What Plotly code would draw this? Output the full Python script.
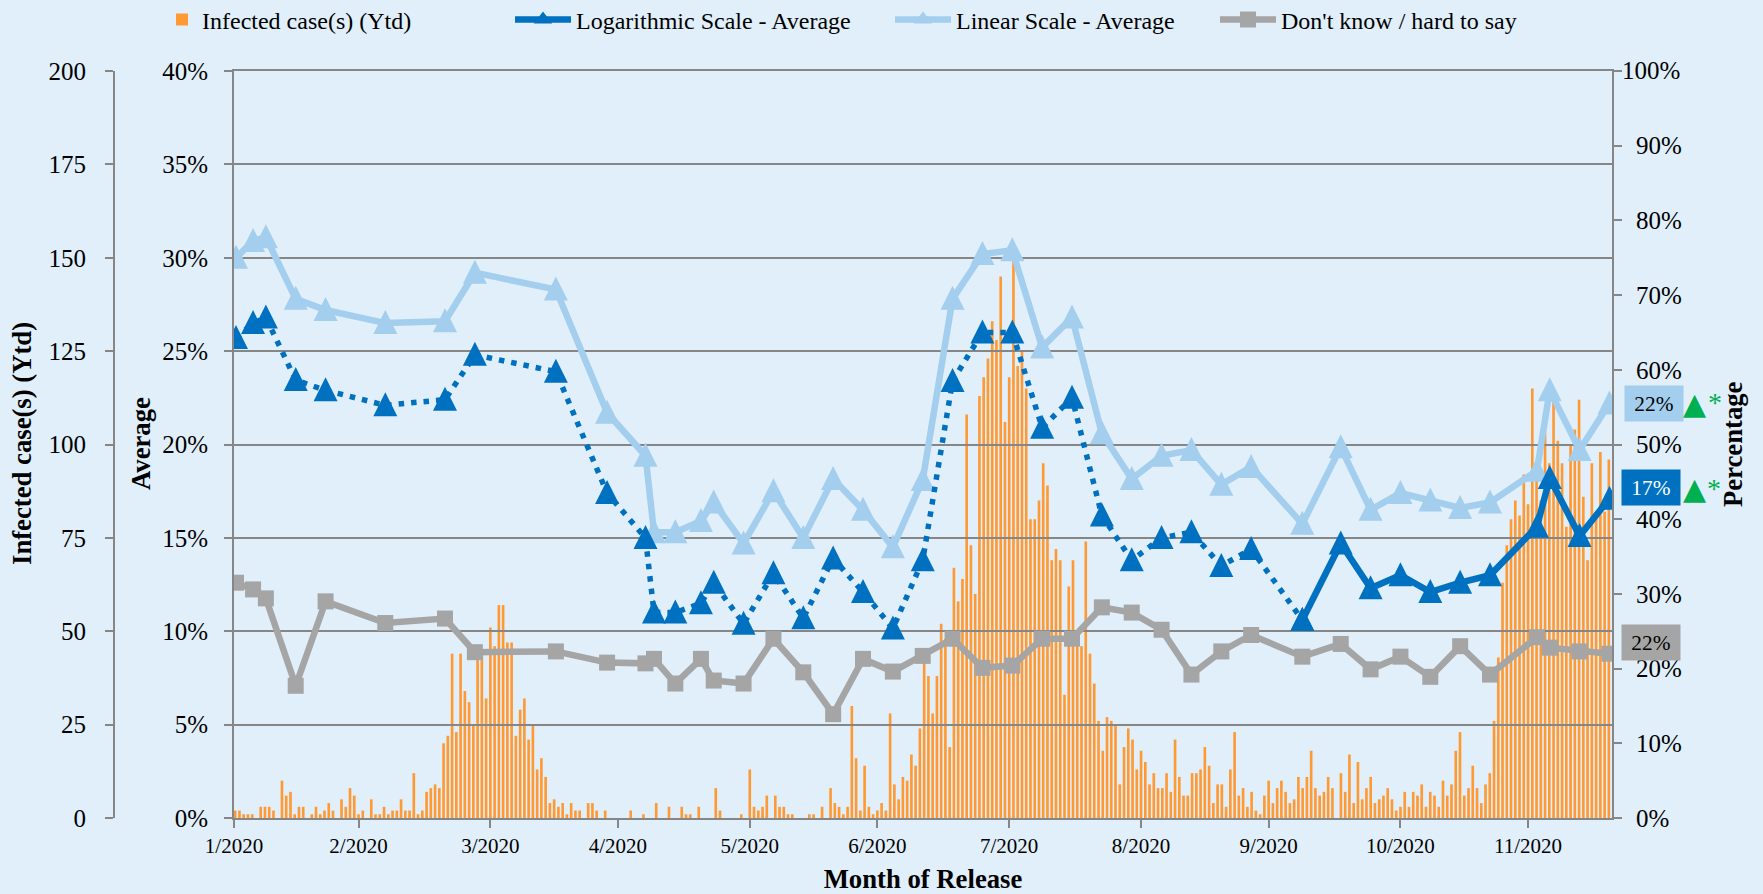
import plotly.graph_objects as go

W, H = 1763, 894
months = ["1/2020","2/2020","3/2020","4/2020","5/2020","6/2020","7/2020","8/2020","9/2020","10/2020","11/2020"]
month_days = [-0.28,29,60,90,121,151,182,213,243,274,304]

infected = [
 2,2,1,1,1,0,3,3,3,2, 0,10,6,7,1,3,3,0,1,3, 1,2,4,2,0,5,3,8,6,1, 2,0,5,1,1,3,1,2,2,5,
 2,2,12,1,2,7,8,9,8,20, 22,44,23,44,34,31,25,44,44,32, 51,46,57,57,47,47,22,29,32,21,
 25,13,16,11,4,5,3,4,1,4, 2,2,0,4,4,2,0,2,0,0, 0,0,0,2,0,0,1,0,0,4, 0,0,3,0,0,3,1,1,0,3,
 0,0,0,8,2,0,0,0,0,1, 0,13,3,2,3,6,0,6,3,3, 1,1,0,0,0,1,1,0,3,0, 8,4,3,1,3,30,16,2,14,3,
 1,2,4,2,28,9,5,11,10,17, 14,24,42,38,28,38,52,48,19,67, 58,64,108,73,60,113,118,123,133,128,
 145,106,118,149,121,125,115,80,80,85, 95,89,69,72,69,33,62,69,46,46, 74,44,36,26,18,27,26,25,9,19,
 24,21,13,18,15,9,12,8,8,12, 7,21,11,6,6,12,12,13,19,14, 4,9,9,3,13,23,6,8,3,7,
 2,1,6,10,4,8,10,7,4,5, 11,8,11,18,8,6,7,11,8,0, 12,7,17,4,15,5,8,11,4,5,
 6,8,5,2,3,7,3,7,6,9, 3,7,6,3,10,6,9,18,23,6, 8,14,8,4,9,12,26,43,63,73,
 80,85,81,92,84,115,91,85,103,95, 112,101,95,78,100,104,112,86,69,95, 82,98,82,96]
bar_days = list(range(len(infected)))

line_days = [0,4,7,14,21,35,49,56,75,87,96,98,103,109,112,119,126,133,140,147,154,161,168,175,182,189,196,
             203,210,217,224,231,238,250,259,266,273,280,287,294,305,308,315,322]
linear_avg = [30.0,30.9,31.1,27.8,27.2,26.5,26.6,29.2,28.3,21.7,19.4,15.3,15.3,15.9,16.9,14.7,17.5,15.0,18.15,16.5,
              14.5,18.1,27.8,30.2,30.4,25.2,26.8,20.6,18.15,19.4,19.7,17.85,18.8,15.75,19.85,16.5,17.4,17.0,16.6,16.9,
              18.6,22.9,19.7,22.2]
log_avg = [25.7,26.5,26.8,23.45,22.9,22.1,22.4,24.8,23.9,17.4,15.0,11.0,11.0,11.5,12.6,10.4,13.1,10.7,13.9,12.1,
           10.15,13.8,23.4,26.0,26.0,20.9,22.5,16.2,13.8,15.0,15.3,13.5,14.4,10.6,14.7,12.3,13.0,12.1,12.6,13.0,
           15.6,18.2,15.1,17.1]
dont_know = [31.5,30.6,29.4,17.7,29.0,26.1,26.7,22.2,22.3,20.8,20.7,21.3,18.0,21.3,18.4,18.0,24.0,19.5,13.9,21.3,
             19.6,21.7,24.0,20.1,20.4,24.0,24.0,28.2,27.5,25.2,19.2,22.3,24.5,21.6,23.3,19.9,21.6,18.9,23.0,19.2,
             24.2,22.8,22.3,22.0]
solid_from = 33  # the log series is dotted up to this point, solid afterwards

BG = "#E0EFFA"; ORANGE = "#FF9933"; BLUE = "#0070C0"; LIGHT = "#A3CEED"; GRAY = "#A5A5A5"; AXIS = "#868686"; GREEN = "#00B050"
FONT = "Liberation Serif"
px = lambda x: x / W
py = lambda y: 1 - y / H
TICK = dict(family=FONT, size=25, color="black")
tri = dict(symbol="arrow-down", size=24, standoff=13, angle=180)

fig = go.Figure()
fig.add_bar(x=bar_days, y=infected, xaxis="x", yaxis="y2", name="Infected case(s) (Ytd)", width=0.62,
            marker=dict(color=ORANGE, line_width=0), legend="legend")
fig.add_scatter(x=line_days, y=linear_avg, xaxis="x2", yaxis="y", mode="lines+markers", name="Linear Scale - Average", showlegend=False,
                line=dict(color=LIGHT, width=6.5, backoff=0), marker=dict(color=LIGHT, **tri))
fig.add_scatter(x=line_days[:solid_from+1], y=log_avg[:solid_from+1], xaxis="x2", yaxis="y", mode="lines+markers",
                name="Logarithmic Scale - Average (dotted)", showlegend=False,
                line=dict(color=BLUE, width=5.5, dash="5.5px,7px", backoff=0), marker=dict(color=BLUE, **tri))
fig.add_scatter(x=line_days[solid_from:], y=log_avg[solid_from:], xaxis="x2", yaxis="y", mode="lines+markers", showlegend=False,
                name="Logarithmic Scale - Average", line=dict(color=BLUE, width=6.5, backoff=0), marker=dict(color=BLUE, **tri))
fig.add_scatter(x=line_days, y=dont_know, xaxis="x2", yaxis="y3", mode="lines+markers", name="Don't know / hard to say",
                line=dict(color=GRAY, width=6.5), marker=dict(color=GRAY, symbol="square", size=16), legend="legend4")
# legend keys for the two triangle series (the plotted arrow markers carry an offset that the key should not)
for nm, col, lg in [("Logarithmic Scale - Average", BLUE, "legend2"), ("Linear Scale - Average", LIGHT, "legend3")]:
    fig.add_scatter(x=[None], y=[None], xaxis="x2", yaxis="y", mode="lines+markers", name=nm, legend=lg, hoverinfo="skip",
                    line=dict(color=col, width=6.5), marker=dict(color=col, symbol="triangle-up", size=16))

dom_x = [px(234), px(1612)]
dom_y = [py(818), py(71)]
common = dict(showline=True, linecolor=AXIS, linewidth=2, ticks="outside", ticklen=8, tickcolor=AXIS, tickwidth=2, tickfont=TICK)

pct_right = list(range(0, 101, 10))
fig.update_layout(
    width=W, height=H, margin=dict(l=0, r=0, t=0, b=0, autoexpand=False), paper_bgcolor=BG, plot_bgcolor="rgba(0,0,0,0)",
    barmode="overlay", font=dict(family=FONT, color="black"),
    xaxis=dict(domain=dom_x, range=[-0.28, 323.74], tickmode="array", tickvals=month_days, ticktext=months, mirror=True,
               showgrid=False, zeroline=False, anchor="y", **{**common, "tickfont": dict(family=FONT, size=21, color="black")},
               title=dict(text="<b>Month of Release</b>", font=dict(family=FONT, size=26.7, color="black"), standoff=17)),
    xaxis2=dict(domain=dom_x, range=[-0.47, 322.6], overlaying="x", visible=False, anchor="y"),
    yaxis=dict(domain=dom_y, range=[0, 40], tickmode="array", tickvals=list(range(0, 41, 5)), ticktext=[f"{v}%" for v in range(0, 41, 5)],
               showgrid=True, gridcolor=AXIS, gridwidth=2, zeroline=False, anchor="x", ticklabelstandoff=11, **common),
    yaxis2=dict(domain=dom_y, range=[0, 200], tickmode="array", tickvals=list(range(0, 201, 25)), ticktext=[str(v) for v in range(0, 201, 25)],
                overlaying="y", side="left", anchor="free", position=px(114), showgrid=False, zeroline=False, ticklabelstandoff=14, **common),
    yaxis3=dict(domain=dom_y, range=[0, 100], tickmode="array", tickvals=pct_right, ticktext=[f"{v}%" if v < 100 else "" for v in pct_right],
                overlaying="y", side="right", anchor="x", showgrid=False, zeroline=False, ticklabelstandoff=9, **common),
    showlegend=True,
)
lfont = dict(family=FONT, size=24, color="black")
for name, x0, iw in [("legend", 162, 30), ("legend2", 510, 56), ("legend3", 890, 56), ("legend4", 1215, 56)]:
    fig.update_layout({name: dict(x=px(x0), y=py(20), xanchor="left", yanchor="middle", font=lfont, bgcolor="rgba(0,0,0,0)",
                                  itemwidth=iw, orientation="h", itemclick=False, itemdoubleclick=False)})

def note(text, x, y, size=26.7, color="black", angle=0, bold=False, family=FONT, **kw):
    fig.add_annotation(xref="paper", yref="paper", x=px(x), y=py(y), text=f"<b>{text}</b>" if bold else text, showarrow=False,
                       font=dict(family=family, size=size, color=color), textangle=angle, xanchor="center", yanchor="middle", **kw)

note("100%", 1651, 71, size=25)
note("Infected case(s) (Ytd)", 22, 444, angle=-90, bold=True)
note("Average", 141, 444, angle=-90, bold=True)
note("Percentage", 1733, 444, angle=-90, bold=True)
note("22%", 1654, 404, size=21.33, bgcolor=LIGHT, width=56, height=33)
note("17%", 1651, 487, size=21.33, color="white", bgcolor=BLUE, width=56, height=33)
note("22%", 1651, 642, size=21.33, bgcolor=GRAY, width=56, height=33)
note("▲", 1694, 404, size=30, color=GREEN, family="DejaVu Sans")
note("▲", 1694, 488, size=30, color=GREEN, family="DejaVu Sans")
note("*", 1715, 403, size=28, color=GREEN)
note("*", 1714, 488, size=28, color=GREEN)

fig.write_html("out.html", config={"displayModeBar": False},
               post_script="document.body.style.margin='0';document.body.style.overflow='hidden';")
